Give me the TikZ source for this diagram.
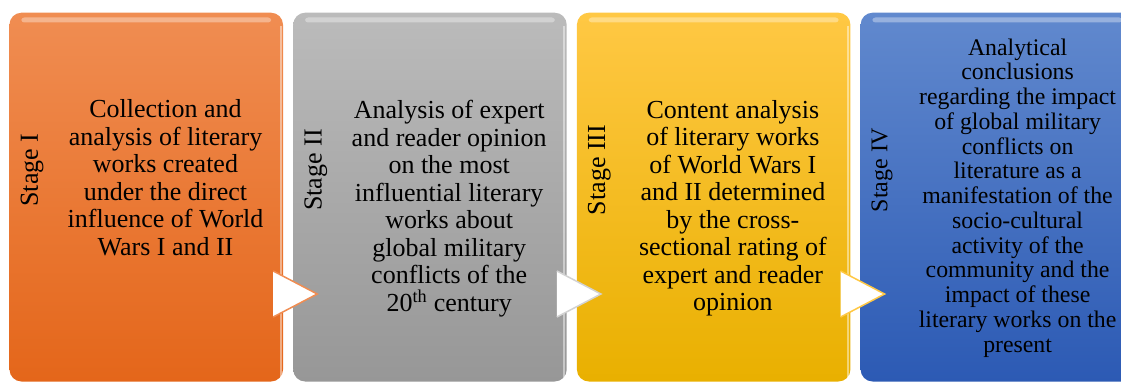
\documentclass[tikz,border=0pt]{standalone}
\usepackage{fontspec}
\setmainfont{Liberation Serif}
\usetikzlibrary{positioning}

\definecolor{orangetop}{HTML}{F08D52}
\definecolor{orangebot}{HTML}{E4661A}
\definecolor{graytop}{HTML}{BBBBBB}
\definecolor{graybot}{HTML}{979797}
\definecolor{yellowtop}{HTML}{FFC844}
\definecolor{yellowbot}{HTML}{E9B000}
\definecolor{bluetop}{HTML}{6189CE}
\definecolor{bluebot}{HTML}{2C5AB4}

\begin{document}
\begin{tikzpicture}[x=1pt, y=1pt,
        stagebox/.style={rounded corners=12pt, minimum width=273.5pt, minimum height=368.8pt, inner sep=0pt},
        gloss/.style={fill=white, opacity=0.35, rounded corners=3pt},
        edgeglow/.style={draw=white, opacity=0.45, line width=2pt},
        bodytext/.style={align=center, inner sep=0pt, font=\fontsize{26}{27.5}\selectfont},
        stagelabel/.style={rotate=90, inner sep=0pt, font=\fontsize{26}{27.5}\selectfont},
        chevron/.style={line width=1.5pt, line join=miter}]
        \useasboundingbox (0,0) rectangle (1121,381);
        \clip (0,0) rectangle (1121,381);

        % the four stages
        \node[stagebox, top color=orangetop, bottom color=orangebot] (b1) at (146.25,183.9) {};
        \node[stagebox, top color=graytop, bottom color=graybot, right=9.8pt of b1] (b2) {};
        \node[stagebox, top color=yellowtop, bottom color=yellowbot, right=9.8pt of b2] (b3) {};
        \node[stagebox, top color=bluetop, bottom color=bluebot, right=9.8pt of b3] (b4) {};

        \fill[gloss] ([shift={(12,-5)}]b1.north west) rectangle ([shift={(-12,-10)}]b1.north east);
        \fill[gloss] ([shift={(12,-5)}]b2.north west) rectangle ([shift={(-12,-10)}]b2.north east);
        \fill[gloss] ([shift={(12,-5)}]b3.north west) rectangle ([shift={(-12,-10)}]b3.north east);
        \fill[gloss] ([shift={(12,-5)}]b4.north west) rectangle ([shift={(-12,-10)}]b4.north east);
        \draw[edgeglow] ([shift={(-2.5,-14)}]b1.north east) -- ([shift={(-2.5,4)}]b1.south east);
        \draw[edgeglow] ([shift={(-2.5,-14)}]b2.north east) -- ([shift={(-2.5,4)}]b2.south east);
        \draw[edgeglow] ([shift={(-2.5,-14)}]b3.north east) -- ([shift={(-2.5,4)}]b3.south east);

        % labels
        \node[stagelabel] (s1) at ([shift={(-114.25,27.1)}]b1.center) {Stage I};
        \node[stagelabel] (s2) at ([shift={(-114.25,27.1)}]b2.center) {Stage II};
        \node[stagelabel] (s3) at ([shift={(-114.25,27.1)}]b3.center) {Stage III};
        \node[stagelabel, font=\fontsize{24}{26.5}\selectfont] (s4) at ([shift={(-115.25,27.1)}]b4.center) {Stage IV};

        \node[bodytext] (t1) at ([shift={(19.25,19.6)}]b1.center) {Collection and\\ analysis of literary\\ works created\\ under the direct\\ influence of World\\ Wars I and II};
        \node[bodytext] (t2) at ([shift={(19.25,-11.7)}]b2.center) {Analysis of expert\\ and reader opinion\\ on the most\\ influential literary\\ works about\\ global military\\ conflicts of the\\ 20\textsuperscript{th} century};
        \node[bodytext] (t3) at ([shift={(19.25,-10.9)}]b3.center) {Content analysis\\ of literary works\\ of World Wars I\\ and II determined\\ by the cross-\\ sectional rating of\\ expert and reader\\ opinion};
        \node[bodytext, font=\fontsize{23.8}{24.75}\selectfont] (t4) at ([shift={(20.25,-0.8)}]b4.center) {Analytical\\ conclusions\\ regarding the impact\\ of global military\\ conflicts on\\ literature as a\\ manifestation of the\\ socio-cultural\\ activity of the\\ community and the\\ impact of these\\ literary works on the\\ present};

        % arrows between stages
        \fill[white] ([shift={(-10,-73.9)}]b1.east) -- ([shift={(34,-96.9)}]b1.east) -- ([shift={(-10,-119.9)}]b1.east) -- cycle;
        \draw[chevron, orangetop] ([shift={(-10,-73.9)}]b1.east) -- ([shift={(34,-96.9)}]b1.east) -- ([shift={(-10,-119.9)}]b1.east);
        \fill[white] ([shift={(-10,-73.9)}]b2.east) -- ([shift={(34,-96.9)}]b2.east) -- ([shift={(-10,-119.9)}]b2.east) -- cycle;
        \draw[chevron, gray!35] ([shift={(-10,-73.9)}]b2.east) -- ([shift={(34,-96.9)}]b2.east) -- ([shift={(-10,-119.9)}]b2.east);
        \fill[white] ([shift={(-10,-73.9)}]b3.east) -- ([shift={(34,-96.9)}]b3.east) -- ([shift={(-10,-119.9)}]b3.east) -- cycle;
        \draw[chevron, yellowtop] ([shift={(-10,-73.9)}]b3.east) -- ([shift={(34,-96.9)}]b3.east) -- ([shift={(-10,-119.9)}]b3.east);
    \end{tikzpicture}
\end{document}
